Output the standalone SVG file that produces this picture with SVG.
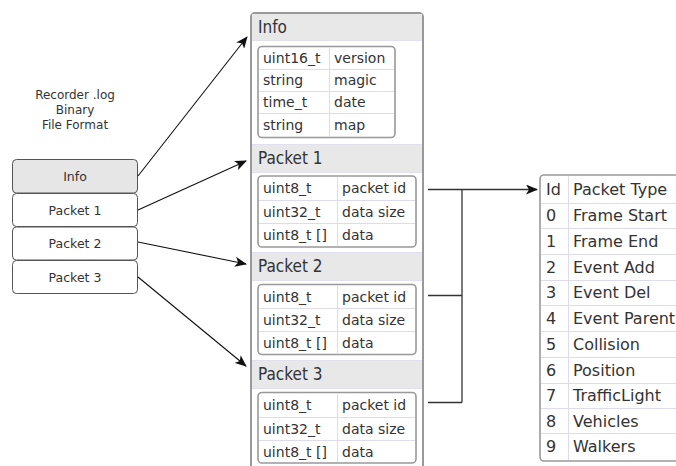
<svg xmlns="http://www.w3.org/2000/svg" width="676" height="466" viewBox="0 0 676 466">
  <style>
    text { font-family: "DejaVu Sans", "Liberation Sans", sans-serif; fill: #333; }
    .title { font-size: 12px; text-anchor: middle; }
    .blk { fill: #fff; stroke: #555; stroke-width: 1; }
    .blk-hi { fill: #e6e6e6; stroke: #555; stroke-width: 1; }
    .blk-t { font-size: 12.5px; text-anchor: middle; }
    .frame { fill: #fff; stroke: #999; stroke-width: 2; }
    .band { fill: #e8e8e8; }
    .band-line { stroke: #e0e0ee; stroke-width: 1; }
    .hdr { font-family: "DejaVu Sans Condensed", "DejaVu Sans", sans-serif; font-size: 17px; }
    .tbl { fill: #fff; stroke: #999; stroke-width: 1.6; }
    .grid { stroke: #dcdcec; stroke-width: 1; fill: none; }
    .cell { font-size: 14px; }
    .big { font-size: 16px; }
    .edge { stroke: #111; stroke-width: 1.1; fill: none; }
    .bus { stroke: #333; stroke-width: 1.3; fill: none; }
  </style>
  <defs>
    <marker id="arrow" viewBox="0 0 12 10" refX="11" refY="5" markerWidth="12" markerHeight="10" markerUnits="userSpaceOnUse" orient="auto">
      <path d="M0,0 L12,5 L0,10 L3,5 Z" fill="#111"/>
    </marker>
  </defs>

  <!-- caption -->
  <g id="caption">
    <text class="title" x="75" y="99">Recorder .log</text>
    <text class="title" x="75" y="114">Binary</text>
    <text class="title" x="75" y="129">File Format</text>
  </g>

  <!-- file layout stack -->
  <g id="stack-info">
    <rect class="blk-hi" x="12.5" y="159.5" width="125" height="33.5" rx="4"/>
    <text class="blk-t" x="75" y="180.5">Info</text>
  </g>
  <g id="stack-packet1">
    <rect class="blk" x="12.5" y="193.5" width="125" height="33" rx="4"/>
    <text class="blk-t" x="75" y="214.5">Packet 1</text>
  </g>
  <g id="stack-packet2">
    <rect class="blk" x="12.5" y="227" width="125" height="33" rx="4"/>
    <text class="blk-t" x="75" y="248">Packet 2</text>
  </g>
  <g id="stack-packet3">
    <rect class="blk" x="12.5" y="260.5" width="125" height="33" rx="4"/>
    <text class="blk-t" x="75" y="281.5">Packet 3</text>
  </g>

  <!-- record structure panel -->
  <g id="records">
    <rect class="frame" x="251" y="13" width="172" height="480" rx="4"/>
    <rect class="band" x="252" y="14" width="170" height="26"/>
    <rect class="band" x="252" y="145" width="170" height="27"/>
    <rect class="band" x="252" y="253" width="170" height="27"/>
    <rect class="band" x="252" y="361" width="170" height="27"/>
    <line class="band-line" x1="252" y1="40.5" x2="422" y2="40.5"/>
    <line class="band-line" x1="252" y1="144.5" x2="422" y2="144.5"/>
    <line class="band-line" x1="252" y1="172.5" x2="422" y2="172.5"/>
    <line class="band-line" x1="252" y1="252.5" x2="422" y2="252.5"/>
    <line class="band-line" x1="252" y1="280.5" x2="422" y2="280.5"/>
    <line class="band-line" x1="252" y1="360.5" x2="422" y2="360.5"/>
    <line class="band-line" x1="252" y1="388.5" x2="422" y2="388.5"/>
  </g>

  <g id="info-record">
    <text class="hdr" x="258" y="33">Info</text>
    <rect class="tbl" x="258" y="46.5" width="137" height="91" rx="4"/>
    <path class="grid" d="M259,69.5 H394 M259,91.5 H394 M259,113.5 H394 M329.5,47.5 V137"/>
    <text class="cell" x="263" y="63">uint16_t</text>
    <text class="cell" x="334" y="63">version</text>
    <text class="cell" x="263" y="85">string</text>
    <text class="cell" x="334" y="85">magic</text>
    <text class="cell" x="263" y="107">time_t</text>
    <text class="cell" x="334" y="107">date</text>
    <text class="cell" x="263" y="130">string</text>
    <text class="cell" x="334" y="130">map</text>
  </g>

  <g id="packet1-record">
    <text class="hdr" x="258" y="164">Packet 1</text>
    <rect class="tbl" x="258" y="176" width="158" height="71" rx="4"/>
    <path class="grid" d="M259,200.5 H415 M259,223.5 H415 M337.5,177 V246"/>
    <text class="cell" x="263" y="193">uint8_t</text>
    <text class="cell" x="342" y="193">packet id</text>
    <text class="cell" x="263" y="217">uint32_t</text>
    <text class="cell" x="342" y="217">data size</text>
    <text class="cell" x="263" y="240">uint8_t []</text>
    <text class="cell" x="342" y="240">data</text>
  </g>

  <g id="packet2-record">
    <text class="hdr" x="258" y="272">Packet 2</text>
    <rect class="tbl" x="258" y="284.5" width="158" height="70" rx="4"/>
    <path class="grid" d="M259,308.5 H415 M259,331.5 H415 M337.5,285.5 V353.5"/>
    <text class="cell" x="263" y="301.5">uint8_t</text>
    <text class="cell" x="342" y="301.5">packet id</text>
    <text class="cell" x="263" y="325">uint32_t</text>
    <text class="cell" x="342" y="325">data size</text>
    <text class="cell" x="263" y="348">uint8_t []</text>
    <text class="cell" x="342" y="348">data</text>
  </g>

  <g id="packet3-record">
    <text class="hdr" x="258" y="380">Packet 3</text>
    <rect class="tbl" x="258" y="392.5" width="158" height="70.5" rx="4"/>
    <path class="grid" d="M259,417.5 H415 M259,440.5 H415 M337.5,393.5 V462"/>
    <text class="cell" x="263" y="410">uint8_t</text>
    <text class="cell" x="342" y="410">packet id</text>
    <text class="cell" x="263" y="434">uint32_t</text>
    <text class="cell" x="342" y="434">data size</text>
    <text class="cell" x="263" y="457">uint8_t []</text>
    <text class="cell" x="342" y="457">data</text>
  </g>

  <!-- packet id lookup -->
  <g id="packet-types">
    <rect class="tbl" x="540" y="175" width="160" height="286" rx="4"/>
    <path class="grid" d="M541,203.5 H676 M541,228.5 H676 M541,254.5 H676 M541,280.5 H676 M541,305.5 H676 M541,331.5 H676 M541,357.5 H676 M541,383.5 H676 M541,408.5 H676 M541,433.5 H676 M568.5,176 V460"/>
    <text class="big" x="546" y="195">Id</text>
    <text class="big" x="573" y="195">Packet Type</text>
    <text class="big" x="546" y="221">0</text>
    <text class="big" x="573" y="221">Frame Start</text>
    <text class="big" x="546" y="247">1</text>
    <text class="big" x="573" y="247">Frame End</text>
    <text class="big" x="546" y="273">2</text>
    <text class="big" x="573" y="273">Event Add</text>
    <text class="big" x="546" y="298">3</text>
    <text class="big" x="573" y="298">Event Del</text>
    <text class="big" x="546" y="324">4</text>
    <text class="big" x="573" y="324">Event Parent</text>
    <text class="big" x="546" y="350">5</text>
    <text class="big" x="573" y="350">Collision</text>
    <text class="big" x="546" y="376">6</text>
    <text class="big" x="573" y="376">Position</text>
    <text class="big" x="546" y="401">7</text>
    <text class="big" x="573" y="401">TrafficLight</text>
    <text class="big" x="546" y="427">8</text>
    <text class="big" x="573" y="427">Vehicles</text>
    <text class="big" x="546" y="452">9</text>
    <text class="big" x="573" y="452">Walkers</text>
  </g>

  <!-- connectors -->
  <g id="connectors">
    <line class="edge" x1="138" y1="176" x2="247" y2="37" marker-end="url(#arrow)"/>
    <line class="edge" x1="138" y1="210" x2="246" y2="161" marker-end="url(#arrow)"/>
    <line class="edge" x1="138" y1="242" x2="246" y2="264" marker-end="url(#arrow)"/>
    <line class="edge" x1="138" y1="277" x2="246" y2="366" marker-end="url(#arrow)"/>
    <path class="bus" d="M428,295.5 H462 M428,402.5 H462 M462,189.5 V402.5"/>
    <line class="bus" x1="428" y1="189.5" x2="537" y2="189.5" marker-end="url(#arrow)"/>
  </g>
</svg>
